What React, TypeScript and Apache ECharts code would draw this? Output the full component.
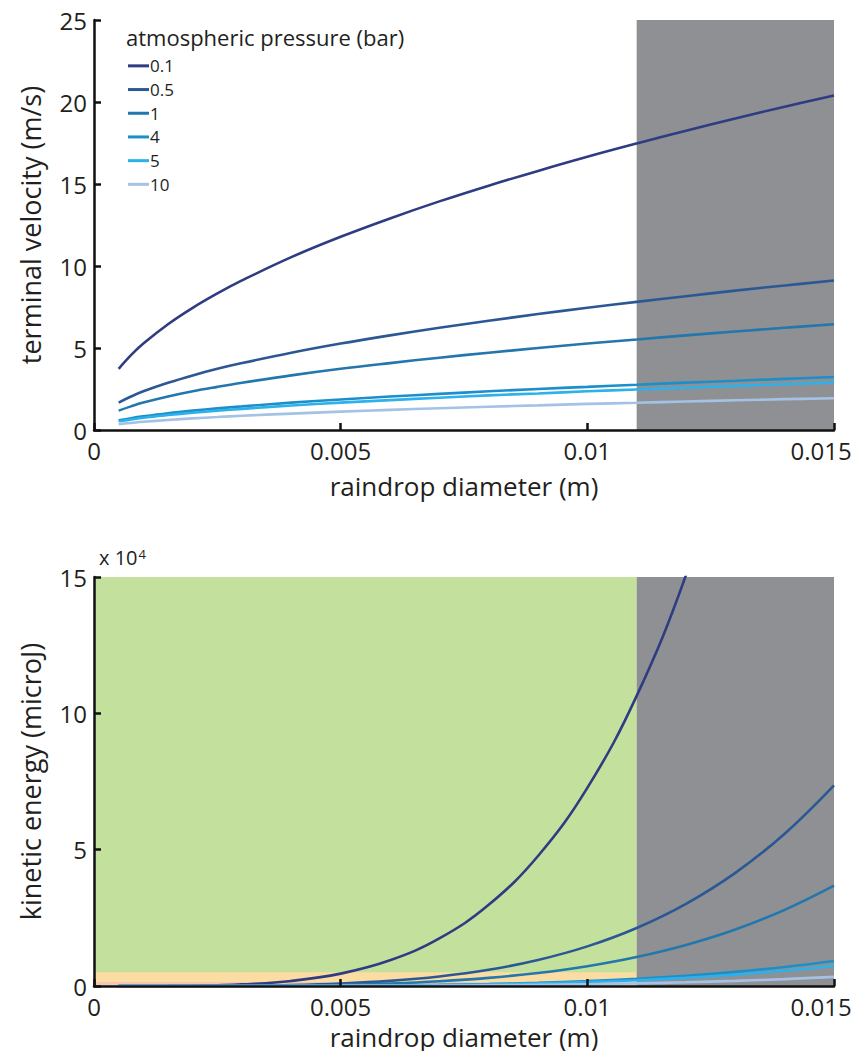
import React, { useEffect, useRef } from "react";
import * as echarts from "echarts";

// raindrop diameter (m)
const diameters = [0.0005, 0.00075, 0.001, 0.0015, 0.002, 0.0025, 0.003, 0.004, 0.005, 0.006, 0.007, 0.008, 0.009, 0.01, 0.011, 0.012, 0.013, 0.014, 0.015];
// atmospheric pressure (bar)
const pressureLabels = ["0.1", "0.5", "1", "4", "5", "10"];
const lineColors = ["#2f3c82", "#2b5894", "#2377ad", "#1c8fcb", "#2cb1ea", "#a3c2e6"];

// terminal velocity (m/s)
const velocity01 = [3.73, 4.56, 5.27, 6.45, 7.45, 8.33, 9.12, 10.54, 11.78, 12.9, 13.94, 14.9, 15.8, 16.66, 17.47, 18.25, 19.0, 19.71, 20.4];
const velocity05 = [1.67, 2.04, 2.36, 2.88, 3.33, 3.73, 4.08, 4.71, 5.27, 5.77, 6.23, 6.66, 7.07, 7.45, 7.81, 8.16, 8.5, 8.81, 9.12];
const velocity1 = [1.18, 1.44, 1.67, 2.04, 2.36, 2.63, 2.88, 3.33, 3.73, 4.08, 4.41, 4.71, 5.0, 5.27, 5.52, 5.77, 6.01, 6.23, 6.45];
const velocity4 = [0.59, 0.72, 0.83, 1.02, 1.18, 1.32, 1.44, 1.67, 1.86, 2.04, 2.2, 2.36, 2.5, 2.63, 2.76, 2.89, 3.0, 3.12, 3.23];
const velocity5 = [0.53, 0.64, 0.75, 0.91, 1.05, 1.18, 1.29, 1.49, 1.67, 1.82, 1.97, 2.11, 2.23, 2.36, 2.47, 2.58, 2.69, 2.79, 2.89];
const velocity10 = [0.36, 0.43, 0.5, 0.61, 0.71, 0.79, 0.87, 1.0, 1.12, 1.23, 1.33, 1.42, 1.5, 1.59, 1.66, 1.74, 1.81, 1.88, 1.94];

// kinetic energy (x 10^4 microJ)
const energy01 = [0.00005, 0.00023, 0.0007, 0.00368, 0.0116, 0.0284, 0.0589, 0.186, 0.454, 0.942, 1.745, 2.976, 4.768, 7.267, 10.64, 15.07, 20.75, 27.92, 36.79];
const energy05 = [0.00001, 0.00005, 0.00015, 0.00074, 0.0023, 0.0057, 0.0118, 0.037, 0.091, 0.188, 0.349, 0.595, 0.954, 1.453, 2.128, 3.014, 4.15, 5.584, 7.358];
const energy1 = [0.0, 0.00002, 0.00007, 0.00037, 0.0012, 0.0028, 0.0059, 0.0186, 0.0454, 0.094, 0.1745, 0.298, 0.477, 0.727, 1.064, 1.507, 2.075, 2.792, 3.679];
const energy4 = [0.0, 0.0, 0.0, 0.00009, 0.0003, 0.0007, 0.0015, 0.0047, 0.0114, 0.0236, 0.0436, 0.0744, 0.1192, 0.1817, 0.266, 0.3768, 0.5188, 0.698, 0.9198];
const energy5 = [0.0, 0.0, 0.0, 0.00007, 0.0002, 0.0006, 0.0012, 0.0037, 0.0091, 0.0188, 0.0349, 0.0595, 0.0954, 0.1453, 0.2128, 0.3014, 0.415, 0.5584, 0.7358];
const energy10 = [0.0, 0.0, 0.0, 0.00003, 0.0001, 0.0003, 0.0005, 0.0017, 0.0041, 0.0086, 0.0159, 0.0271, 0.0433, 0.0661, 0.0967, 0.137, 0.1886, 0.2538, 0.3345];

const velocities = [velocity01, velocity05, velocity1, velocity4, velocity5, velocity10];
const energies = [energy01, energy05, energy1, energy4, energy5, energy10];

// shaded regions
const grayStart = 0.011;
const xMax = 0.015;
const velocityMax = 25;
const energyMax = 15;
const orangeBand = [0.15, 0.5];

const FONT = "'Open Sans', 'Noto Sans', sans-serif";
const TXT = "#231f20";

function makeXAxis(gridIndex: number, nameGap: number) {
  return {
    type: "value",
    gridIndex,
    min: 0,
    max: xMax,
    interval: 0.005,
    name: "raindrop diameter (m)",
    nameLocation: "middle",
    nameGap,
    nameTextStyle: { fontFamily: FONT, fontSize: 26, color: TXT },
    axisLine: { show: true, onZero: false, lineStyle: { color: "#111", width: 2.5 } },
    axisTick: { show: true, inside: true, length: 7, lineStyle: { color: "#111", width: 2.5 } },
    axisLabel: {
      fontFamily: FONT,
      fontSize: 24,
      color: TXT,
      margin: 8,
      formatter: (v: number) => (Math.abs(v - xMax) < 1e-9 ? "{last|" + v + "}" : String(v)),
      rich: { last: { fontFamily: FONT, fontSize: 24, color: TXT, padding: [0, 26, 0, 0] } },
    },
    splitLine: { show: false },
    z: 10,
  };
}

function makeYAxis(gridIndex: number, max: number, name: string) {
  return {
    type: "value",
    gridIndex,
    min: 0,
    max,
    interval: 5,
    name,
    nameLocation: "middle",
    nameGap: 50,
    nameRotate: 90,
    nameTextStyle: { fontFamily: FONT, fontSize: 27, color: TXT },
    axisLine: { show: true, onZero: false, lineStyle: { color: "#111", width: 2.5 } },
    axisTick: { show: true, inside: true, length: 7, lineStyle: { color: "#111", width: 2.5 } },
    axisLabel: { fontFamily: FONT, fontSize: 24, color: TXT, margin: 7 },
    splitLine: { show: false },
    z: 10,
  };
}

export default function App() {
  const ref = useRef<HTMLDivElement>(null);

  useEffect(() => {
    if (!ref.current) return;
    const chart = echarts.init(ref.current, null, { renderer: "svg" });

    const lineSeries: any[] = [];
    pressureLabels.forEach((p, i) => {
      lineSeries.push({
        type: "line",
        name: p,
        xAxisIndex: 0,
        yAxisIndex: 0,
        data: diameters.map((d, j) => [d, velocities[i][j]]),
        smooth: 0.4,
        showSymbol: false,
        symbol: "none",
        lineStyle: { color: lineColors[i], width: 2.6 },
        itemStyle: { color: lineColors[i] },
        z: 5,
        silent: true,
      });
    });
    pressureLabels.forEach((p, i) => {
      lineSeries.push({
        type: "line",
        name: p,
        xAxisIndex: 1,
        yAxisIndex: 1,
        data: diameters.map((d, j) => [d, energies[i][j]]),
        smooth: 0.4,
        showSymbol: false,
        symbol: "none",
        lineStyle: { color: lineColors[i], width: 2.6 },
        itemStyle: { color: lineColors[i] },
        z: 5,
        silent: true,
      });
    });

    const option: any = {
      animation: false,
      backgroundColor: "#ffffff",
      grid: [
        { left: 94, top: 20, width: 740, height: 410, containLabel: false },
        { left: 94, top: 577, width: 740, height: 409, containLabel: false },
      ],
      xAxis: [makeXAxis(0, 43), makeXAxis(1, 38)],
      yAxis: [
        makeYAxis(0, velocityMax, "terminal velocity (m/s)"),
        makeYAxis(1, energyMax, "kinetic energy (microJ)"),
      ],
      legend: {
        data: pressureLabels,
        orient: "vertical",
        left: 123,
        top: 49,
        icon: "rect",
        itemWidth: 21,
        itemHeight: 3,
        itemGap: 0,
        selectedMode: false,
        textStyle: { fontFamily: FONT, fontSize: 17, lineHeight: 23.7, color: TXT, padding: [0, 0, 0, -4] },
      },
      graphic: [
        {
          type: "text",
          left: 126,
          top: 26,
          style: { text: "atmospheric pressure (bar)", fontFamily: FONT, fontSize: 22, fill: TXT },
        },
        {
          type: "text",
          left: 99,
          top: 547,
          style: {
            text: "{b|x 10}{s|4}",
            rich: {
              b: { fontFamily: FONT, fontSize: 20, fill: TXT, color: TXT },
              s: { fontFamily: FONT, fontSize: 13, fill: TXT, color: TXT, verticalAlign: "top", padding: [0, 0, 8, 1] },
            },
          },
        },
      ],
      series: [
        {
          type: "line",
          xAxisIndex: 0,
          yAxisIndex: 0,
          data: [],
          silent: true,
          z: 1,
          markArea: {
            silent: true,
            itemStyle: { color: "#8f9093", opacity: 1 },
            data: [[{ coord: [grayStart, 0] }, { coord: [xMax, velocityMax] }]],
          },
        },
        {
          type: "line",
          xAxisIndex: 1,
          yAxisIndex: 1,
          data: [],
          silent: true,
          z: 1,
          markArea: {
            silent: true,
            data: [
              [{ coord: [0, 0], itemStyle: { color: "#c4e09d", opacity: 1 } }, { coord: [grayStart, energyMax] }],
              [{ coord: [0, orangeBand[0]], itemStyle: { color: "#fbdca2", opacity: 1 } }, { coord: [grayStart, orangeBand[1]] }],
              [{ coord: [0, 0], itemStyle: { color: "#f5c8b4", opacity: 1 } }, { coord: [grayStart, orangeBand[0]] }],
              [{ coord: [grayStart, 0], itemStyle: { color: "#8f9093", opacity: 1 } }, { coord: [xMax, energyMax] }],
            ],
          },
        },
        ...lineSeries,
      ],
    };

    chart.setOption(option);
    return () => chart.dispose();
  }, []);

  return <div ref={ref} style={{ width: 859, height: 1059, margin: -8 }} />;
}
